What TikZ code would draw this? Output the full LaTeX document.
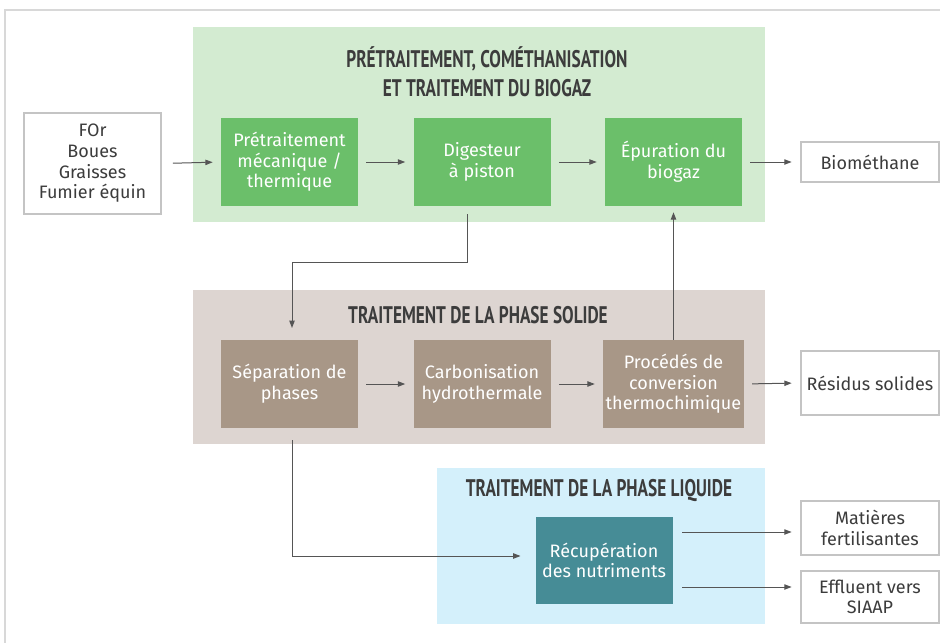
\documentclass[tikz,border=0pt]{standalone}
\usepackage{fontspec}
\setmainfont{Fira Sans}
\newfontfamily\titlefont{PT Sans}[FakeStretch=0.72]
\usetikzlibrary{arrows.meta,calc}
\definecolor{framegrey}{HTML}{D8D8D8}
\definecolor{greenpanel}{HTML}{D3EBD1}
\definecolor{greenbox}{HTML}{6BBF6A}
\definecolor{brownpanel}{HTML}{DDD5D1}
\definecolor{brownbox}{HTML}{A89787}
\definecolor{bluepanel}{HTML}{D4F0FB}
\definecolor{tealbox}{HTML}{468C96}
\definecolor{outborder}{HTML}{C4C4C4}
\definecolor{arrowgrey}{HTML}{555555}
\definecolor{txtdark}{HTML}{3C3C3C}
\begin{document}
\begin{tikzpicture}[x=0.75pt,y=-0.75pt,
  panel/.style={inner sep=0pt, draw=none, anchor=north west},
  titletext/.style={font=\titlefont\bfseries\fontsize{18}{22}\selectfont, text=txtdark, align=center},
  procbox/.style={inner sep=2pt, minimum width=102.75pt, minimum height=66pt, align=center,
     text=white, font=\fontsize{13.5}{15.5}\selectfont},
  outbox/.style={draw=outborder, line width=1.5pt, fill=white, inner sep=2pt, minimum width=104pt,
     align=center, text=txtdark, font=\fontsize{13.5}{15.5}\selectfont},
  arr/.style={draw=arrowgrey, line width=0.75pt, -{Triangle[length=5.5pt,width=4pt]}},
  gap/.style={shorten <=6pt, shorten >=6pt}
]
\useasboundingbox (0,0) rectangle (940,643);
% outer frame
\draw[framegrey, line width=1.2pt] (5,643) -- (5,10) -- (945,10);

% panels
\node[panel, fill=greenpanel, minimum width=429pt, minimum height=146.25pt] (pgreen) at (193,27) {};
\node[panel, fill=brownpanel, minimum width=429pt, minimum height=115.5pt] (pbrown) at (193,290) {};
\node[panel, fill=bluepanel, minimum width=246pt, minimum height=117pt] (pblue) at (437,468) {};

% titles
\node[titletext] (tgreen) at (487,72) {PRÉTRAITEMENT, COMÉTHANISATION\\ET TRAITEMENT DU BIOGAZ};
\node[titletext] (tbrown) at (478,315) {TRAITEMENT DE LA PHASE SOLIDE};
\node[titletext] (tblue) at (599,491) {TRAITEMENT DE LA PHASE LIQUIDE};

% process boxes
\node[procbox, fill=greenbox] (pre) at (289.5,162) {Prétraitement\\mécanique /\\thermique};
\node[procbox, fill=greenbox] (dig) at (482,162) {Digesteur\\à piston};
\node[procbox, fill=greenbox] (epu) at (673.5,162) {Épuration du\\biogaz};
\node[procbox, fill=brownbox] (sep) at (289.5,384) {Séparation de\\phases};
\node[procbox, fill=brownbox] (carb) at (482,384) {Carbonisation\\hydrothermale};
\node[procbox, fill=brownbox] (proc) at (673.5,384) {Procédés de\\conversion\\thermochimique};
\node[procbox, fill=tealbox, minimum height=65pt] (recup) at (604,560.5) {Récupération\\des nutriments};

% input/output boxes
\node[outbox, minimum width=103pt, minimum height=76pt] (input) at (92.5,163.5) {FOr\\Boues\\Graisses\\Fumier équin};
\node[outbox, minimum height=30.5pt] (bio) at (870,162) {Biométhane};
\node[outbox, minimum height=48.5pt] (res) at (870,383) {Résidus solides};
\node[outbox, minimum height=41pt] (mat) at (870,528) {Matières\\fertilisantes};
\node[outbox, minimum height=39.5pt] (eff) at (870,597) {Effluent vers\\SIAAP};

% connectors
\draw[arr, shorten <=8pt, shorten >=6pt] (input.east) -- (pre.west);
\draw[arr, gap] (pre.east) -- (dig.west);
\draw[arr, gap] (dig.east) -- (epu.west);
\draw[arr, gap] (epu.east) -- (bio.west);
\draw[arr, gap] (sep.east) -- (carb.west);
\draw[arr, gap] (carb.east) -- (proc.west);
\draw[arr, gap] (proc.east) -- (res.west);
\coordinate (k0) at (467,206);
\coordinate (k1) at (467,262);
\coordinate (k2) at (292,262);
\coordinate (k2b) at (292,340);
\draw[arr, shorten <=6pt, shorten >=9pt] (k0) -- (k1) -- (k2) -- (k2b);
\draw[arr, shorten >=4.5pt] (proc.north) -- (epu.south);
\coordinate (k3a) at (292,428);
\coordinate (k3) at (292,556);
\coordinate (k4) at (recup.west |- 0,556);
\draw[arr, shorten <=9pt, shorten >=11pt] (k3a) -- (k3) -- (k4);
\coordinate (r1) at (recup.east |- 0,532);
\coordinate (r2) at (recup.east |- 0,587);
\draw[arr, shorten <=7pt, shorten >=6pt] (r1) -- (mat.west |- r1);
\draw[arr, shorten <=7pt, shorten >=6pt] (r2) -- (eff.west |- r2);
\end{tikzpicture}
\end{document}
